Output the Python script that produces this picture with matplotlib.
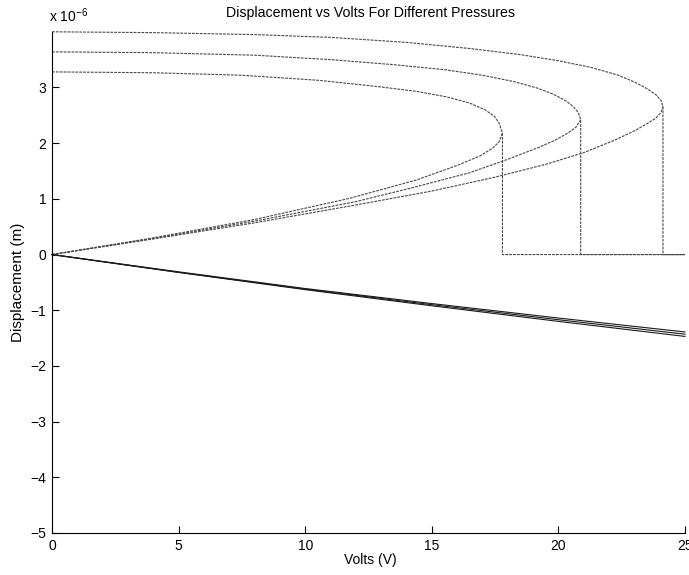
import matplotlib
matplotlib.use("Agg")
import matplotlib.pyplot as plt

plt.rcParams["font.family"] = ["Liberation Sans", "DejaVu Sans"]
plt.rcParams["mathtext.fontset"] = "custom"
plt.rcParams["mathtext.rm"] = "Liberation Sans"
plt.rcParams["mathtext.it"] = "Liberation Sans"

# Displacement values are in units of 1e-6 m; volts in V.
v_max = 25

# Pressure 1 (fold at ~24.1 V)
p1_upper_v = [0, 4, 8, 11, 14, 16.5, 18.5, 20, 21.3, 22.3, 23.0, 23.5, 23.85, 24.05, 24.13]
p1_upper_d = [4.00, 3.985, 3.95, 3.90, 3.81, 3.70, 3.59, 3.48, 3.36, 3.23, 3.10, 2.98, 2.87, 2.77, 2.66]
p1_lower_v = [0, 4, 8, 12, 15, 17.5, 19.5, 21, 22.2, 23.0, 23.5, 23.85, 24.05, 24.13]
p1_lower_d = [0, 0.28, 0.57, 0.89, 1.14, 1.39, 1.62, 1.83, 2.05, 2.22, 2.35, 2.45, 2.55, 2.66]

# Pressure 2 (fold at ~20.9 V)
p2_upper_v = [0, 4, 8, 11, 13.5, 15.5, 17, 18.2, 19.1, 19.8, 20.3, 20.6, 20.8, 20.88]
p2_upper_d = [3.64, 3.625, 3.58, 3.50, 3.41, 3.32, 3.22, 3.11, 3.00, 2.88, 2.76, 2.65, 2.54, 2.42]
p2_lower_v = [0, 4, 8, 12, 14.4, 16.5, 18, 19.2, 19.9, 20.4, 20.7, 20.88]
p2_lower_d = [0, 0.29, 0.60, 0.95, 1.22, 1.47, 1.71, 1.92, 2.06, 2.19, 2.29, 2.42]

# Pressure 3 (fold at ~17.8 V)
p3_upper_v = [0, 4, 7.5, 10.5, 12.8, 14.4, 15.6, 16.5, 17.1, 17.45, 17.65, 17.79]
p3_upper_d = [3.28, 3.265, 3.22, 3.13, 3.02, 2.93, 2.83, 2.72, 2.60, 2.49, 2.37, 2.18]
p3_lower_v = [0, 4, 8, 11.76, 14.4, 16.0, 16.9, 17.4, 17.65, 17.79]
p3_lower_d = [0, 0.30, 0.63, 1.01, 1.34, 1.60, 1.77, 1.91, 2.02, 2.18]

# Negative root for each pressure
neg_v = [0, 5, 10, 15, 20, 25]
p1_neg_d = [0, -0.32, -0.63, -0.92, -1.20, -1.47]
p2_neg_d = [0, -0.32, -0.62, -0.90, -1.17, -1.43]
p3_neg_d = [0, -0.31, -0.61, -0.88, -1.14, -1.39]

x_ticks = [0, 5, 10, 15, 20, 25]
y_ticks = [-5, -4, -3, -2, -1, 0, 1, 2, 3]

W, H = 689, 575
fig = plt.figure(figsize=(W / 100, H / 100), dpi=100)
ax = fig.add_axes([52 / W, 42 / H, 633 / W, 501.2 / H])

curve_style = dict(color="0.28", lw=0.8, ls=(0, (2.5, 1.0)), clip_on=False)
neg_style = dict(color="0.1", lw=0.8, clip_on=False)

for uv, ud, lv, ld, nd in [
    (p1_upper_v, p1_upper_d, p1_lower_v, p1_lower_d, p1_neg_d),
    (p2_upper_v, p2_upper_d, p2_lower_v, p2_lower_d, p2_neg_d),
    (p3_upper_v, p3_upper_d, p3_lower_v, p3_lower_d, p3_neg_d),
]:
    # upper root, then drop to zero once the roots turn complex
    ax.plot(uv + [uv[-1], v_max], ud + [0, 0], **curve_style)
    ax.plot(lv, ld, **curve_style)
    ax.plot(neg_v, nd, **neg_style)

ax.set_xlim(0, v_max)
ax.set_ylim(-5, 4)
ax.set_xticks(x_ticks)
ax.set_yticks(y_ticks)
ax.set_xticklabels([str(t) for t in x_ticks])
ax.set_yticklabels([("\u2212" + str(-t)) if t < 0 else str(t) for t in y_ticks])
ax.tick_params(direction="in", length=5, width=0.8, labelsize=10, pad=4, colors="black")
for s in ["top", "right"]:
    ax.spines[s].set_visible(False)
for s in ["left", "bottom"]:
    ax.spines[s].set_linewidth(0.8)

fig.text(370 / W, 1 - 13 / H, "Displacement vs Volts For Different Pressures",
         ha="center", va="center", fontsize=10.2)
fig.text(49 / W, 1 - 22 / H, r"x 10$^{-6}$", ha="left", va="baseline", fontsize=10)
fig.text(370 / W, 1 - 560 / H, "Volts (V)", ha="center", va="center", fontsize=10)
fig.text(18 / W, 1 - 282 / H, "Displacement (m)", ha="center", va="center",
         rotation=90, fontsize=11)

fig.savefig("out.png", dpi=100)
